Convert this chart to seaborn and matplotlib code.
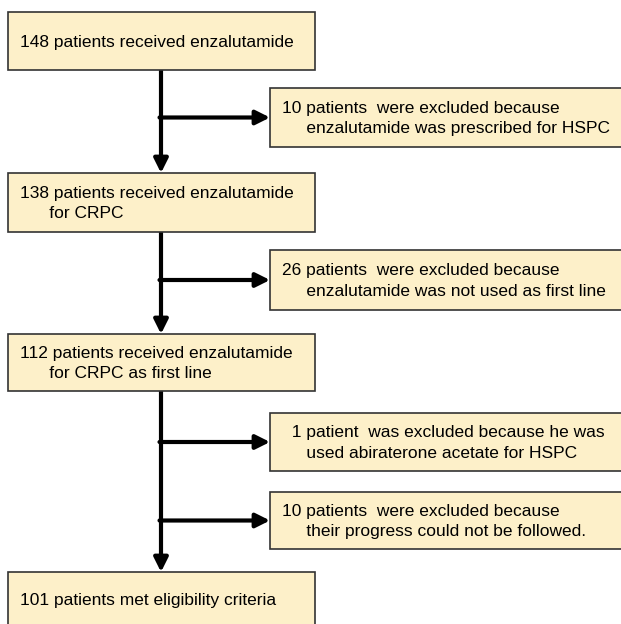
import matplotlib.pyplot as plt
import seaborn as sns
from matplotlib.patches import Rectangle

# flow steps (main column) and the exclusions between them
main_steps = [
    "148 patients received enzalutamide",
    "138 patients received enzalutamide\n      for CRPC",
    "112 patients received enzalutamide\n      for CRPC as first line",
    "101 patients met eligibility criteria",
]
exclusions = [
    "10 patients  were excluded because\n     enzalutamide was prescribed for HSPC",
    "26 patients  were excluded because\n     enzalutamide was not used as first line",
    "  1 patient  was excluded because he was\n     used abiraterone acetate for HSPC",
    "10 patients  were excluded because\n     their progress could not be followed.",
]
# which main step each exclusion branches off
excl_from = [0, 1, 2, 2]

sns.set_theme(style="white")
plt.rcParams['font.family'] = ['Liberation Sans', 'DejaVu Sans']

fill = "#fdf0c9"
edge = "#333333"

fig = plt.figure(figsize=(6.21, 6.24), dpi=100)
ax = fig.add_axes([0, 0, 1, 1])
ax.set_xlim(0, 621)
ax.set_ylim(624, 0)
ax.axis("off")

# layout in pixels (top, bottom)
main_y = [(12, 70), (173, 232), (334, 391), (572, 640)]
excl_y = [(88, 147), (250, 310), (413, 471), (492, 549)]
main_x = (8, 315)
excl_x = (270, 640)
spine_x = 161

for (t, b), txt in zip(main_y, main_steps):
    ax.add_patch(Rectangle((main_x[0], t), main_x[1] - main_x[0], b - t,
                           facecolor=fill, edgecolor=edge, lw=1.2, zorder=2))
    ty = (t + b) / 2 + 1 if b < 624 else (t + 624) / 2 + 2
    ax.text(main_x[0] + 12, ty, txt, fontsize=12.5, va="center", ha="left",
            linespacing=1.45, color="black", zorder=3)

for (t, b), txt in zip(excl_y, exclusions):
    ax.add_patch(Rectangle((excl_x[0], t), excl_x[1] - excl_x[0], b - t,
                           facecolor=fill, edgecolor=edge, lw=1.2, zorder=2))
    ax.text(excl_x[0] + 12, (t + b) / 2 + 1, txt, fontsize=12.5, va="center",
            ha="left", linespacing=1.45, color="black", zorder=3)

arrow = dict(arrowstyle="-|>,head_length=0.7,head_width=0.35", color="black",
             lw=3, shrinkA=0, shrinkB=0)

# vertical arrows between main steps
for i in range(len(main_y) - 1):
    ax.annotate("", xy=(spine_x, main_y[i + 1][0]), xytext=(spine_x, main_y[i][1]),
                arrowprops=arrow, zorder=1)

# side arrows to exclusion boxes
for (t, b), src in zip(excl_y, excl_from):
    y = (t + b) / 2
    ax.annotate("", xy=(excl_x[0], y), xytext=(spine_x - 1.5, y),
                arrowprops=arrow, zorder=1)

fig.savefig("out.png", dpi=100, facecolor="white")
